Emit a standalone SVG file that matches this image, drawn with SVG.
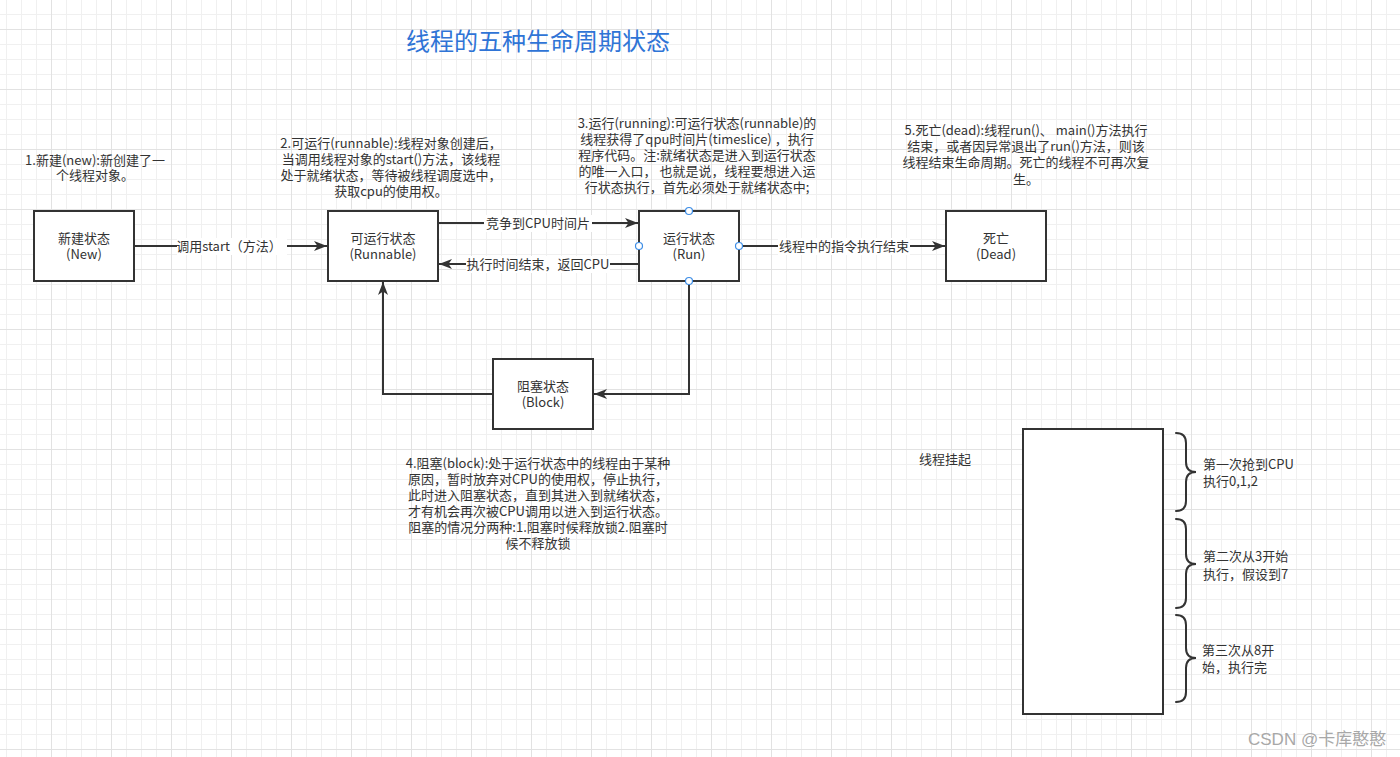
<svg xmlns="http://www.w3.org/2000/svg" width="1400" height="757" viewBox="0 0 1400 757">
<style>
  text { font-family: "Noto Sans CJK SC", "Microsoft YaHei", sans-serif; fill: #333; font-size: 13px; }
  .mid { text-anchor: middle; }
  .node { fill: #fff; stroke: #333; stroke-width: 2; }
  .edge { fill: none; stroke: #333; stroke-width: 2; }
  .lbl { fill: #fff; }
  .pt { fill: #fff; stroke: #3d8de6; stroke-width: 1.2; }
  .brace { fill: none; stroke: #333; stroke-width: 2; stroke-linecap: round; }
</style>
<defs>
  <pattern id="grid" patternUnits="userSpaceOnUse" x="51" y="29" width="60" height="60">
    <path d="M15.5,0 V60 M30.5,0 V60 M45.5,0 V60 M0,15.5 H60 M0,30.5 H60 M0,45.5 H60" stroke="#f0f0f0" stroke-width="1" fill="none"/>
    <path d="M0.5,0 V60 M0,0.5 H60" stroke="#e2e2e2" stroke-width="1" fill="none"/>
  </pattern>
  <marker id="arrow" markerUnits="userSpaceOnUse" markerWidth="14" markerHeight="11" refX="13" refY="5" orient="auto">
    <path d="M0,0 L13,5 L0,10 L3.5,5 Z" fill="#333"/>
  </marker>
</defs>
<rect x="0" y="0" width="1400" height="757" fill="#fff"/>
<rect x="0" y="0" width="1400" height="757" fill="url(#grid)"/>

<text id="title" x="538" y="50" class="mid" style="font-size:24px;fill:#2f74d6">线程的五种生命周期状态</text>

<g id="connectors">
  <path class="edge" d="M134,246 H327" marker-end="url(#arrow)"/>
  <path class="edge" d="M438,223 H638" marker-end="url(#arrow)"/>
  <path class="edge" d="M639,264 H439" marker-end="url(#arrow)"/>
  <path class="edge" d="M739,246 H945" marker-end="url(#arrow)"/>
  <path class="edge" d="M689,281 V394 H594" marker-end="url(#arrow)"/>
  <path class="edge" d="M493,394 H383 V282" marker-end="url(#arrow)"/>
  <rect class="lbl" x="177" y="238" width="110" height="17"/>
  <text x="229" y="251" class="mid">调用start（方法）</text>
  <rect class="lbl" x="484" y="215" width="108" height="17"/>
  <text x="538" y="228" class="mid">竞争到CPU时间片</text>
  <rect class="lbl" x="466" y="256" width="144" height="17"/>
  <text x="538" y="269" class="mid">执行时间结束，返回CPU</text>
  <rect class="lbl" x="778" y="238" width="132" height="17"/>
  <text x="844" y="251" class="mid">线程中的指令执行结束</text>
</g>

<g id="node-new">
  <rect class="node" x="34" y="211" width="100" height="70"/>
  <text class="mid"><tspan x="84" y="243">新建状态</tspan><tspan x="84" y="259">(New)</tspan></text>
</g>
<g id="node-runnable">
  <rect class="node" x="328" y="211" width="110" height="70"/>
  <text class="mid"><tspan x="383" y="243">可运行状态</tspan><tspan x="383" y="259">(Runnable)</tspan></text>
</g>
<g id="node-run">
  <rect class="node" x="639" y="211" width="100" height="70"/>
  <text class="mid"><tspan x="689" y="243">运行状态</tspan><tspan x="689" y="259">(Run)</tspan></text>
  <circle class="pt" cx="689" cy="211" r="3.5"/>
  <circle class="pt" cx="639" cy="246" r="3.5"/>
  <circle class="pt" cx="739" cy="246" r="3.5"/>
  <circle class="pt" cx="689" cy="281" r="3.5"/>
</g>
<g id="node-dead">
  <rect class="node" x="946" y="211" width="100" height="70"/>
  <text class="mid"><tspan x="996" y="243">死亡</tspan><tspan x="996" y="259">(Dead)</tspan></text>
</g>
<g id="node-block">
  <rect class="node" x="493" y="359" width="100" height="70"/>
  <text class="mid"><tspan x="543" y="391">阻塞状态</tspan><tspan x="543" y="407">(Block)</tspan></text>
</g>

<g id="note-new">
  <text class="mid"><tspan x="95" y="165">1.新建(new):新创建了一</tspan><tspan x="95" y="180">个线程对象。</tspan></text>
</g>
<g id="note-runnable">
  <text class="mid"><tspan x="391" y="148">2.可运行(runnable):线程对象创建后，</tspan><tspan x="391" y="164">当调用线程对象的start()方法，该线程</tspan><tspan x="391" y="180">处于就绪状态，等待被线程调度选中，</tspan><tspan x="391" y="196">获取cpu的使用权。</tspan></text>
</g>
<g id="note-run">
  <text class="mid"><tspan x="697" y="128">3.运行(running):可运行状态(runnable)的</tspan><tspan x="697" y="144">线程获得了qpu时间片(timeslice) ，执行</tspan><tspan x="697" y="160">程序代码。注:就绪状态是进入到运行状态</tspan><tspan x="697" y="176">的唯一入口， 也就是说，线程要想进入运</tspan><tspan x="697" y="192">行状态执行，首先必须处于就绪状态中;</tspan></text>
</g>
<g id="note-dead">
  <text class="mid"><tspan x="1026" y="135">5.死亡(dead):线程run()、 main()方法执行</tspan><tspan x="1026" y="151">结束，或者因异常退出了run()方法，则该</tspan><tspan x="1026" y="167">线程结束生命周期。死亡的线程不可再次复</tspan><tspan x="1026" y="184">生。</tspan></text>
</g>
<g id="note-block">
  <text class="mid"><tspan x="538" y="468">4.阻塞(block):处于运行状态中的线程由于某种</tspan><tspan x="538" y="484">原因，暂时放弃对CPU的使用权，停止执行，</tspan><tspan x="538" y="500">此时进入阻塞状态，直到其进入到就绪状态，</tspan><tspan x="538" y="516">才有机会再次被CPU调用以进入到运行状态。</tspan><tspan x="538" y="532">阻塞的情况分两种:1.阻塞时候释放锁2.阻塞时</tspan><tspan x="538" y="548">候不释放锁</tspan></text>
</g>

<g id="suspend-label">
  <text x="919" y="464">线程挂起</text>
</g>
<g id="timeline">
  <rect class="node" x="1023" y="429" width="140" height="285"/>
</g>
<g id="brace-1">
  <path class="brace" d="M1176,433 Q1186,433 1186,443 V462 Q1186,472 1196,472 Q1186,472 1186,482 V501 Q1186,511 1176,511"/>
  <text><tspan x="1203" y="469">第一次抢到CPU</tspan><tspan x="1203" y="486">执行0,1,2</tspan></text>
</g>
<g id="brace-2">
  <path class="brace" d="M1176,519 Q1186,519 1186,529 V554 Q1186,564 1196,564 Q1186,564 1186,574 V598 Q1186,608 1176,608"/>
  <text><tspan x="1203" y="561">第二次从3开始</tspan><tspan x="1203" y="579">执行，假设到7</tspan></text>
</g>
<g id="brace-3">
  <path class="brace" d="M1176,615 Q1186,615 1186,625 V648 Q1186,658 1196,658 Q1186,658 1186,668 V692 Q1186,702 1176,702"/>
  <text><tspan x="1202" y="655">第三次从8开</tspan><tspan x="1202" y="672">始，执行完</tspan></text>
</g>

<text x="1248" y="745" style="font-size:17px;fill:#a8a8a8;font-family:'Liberation Sans','Noto Sans CJK SC',sans-serif">CSDN @卡库憨憨</text>
</svg>
